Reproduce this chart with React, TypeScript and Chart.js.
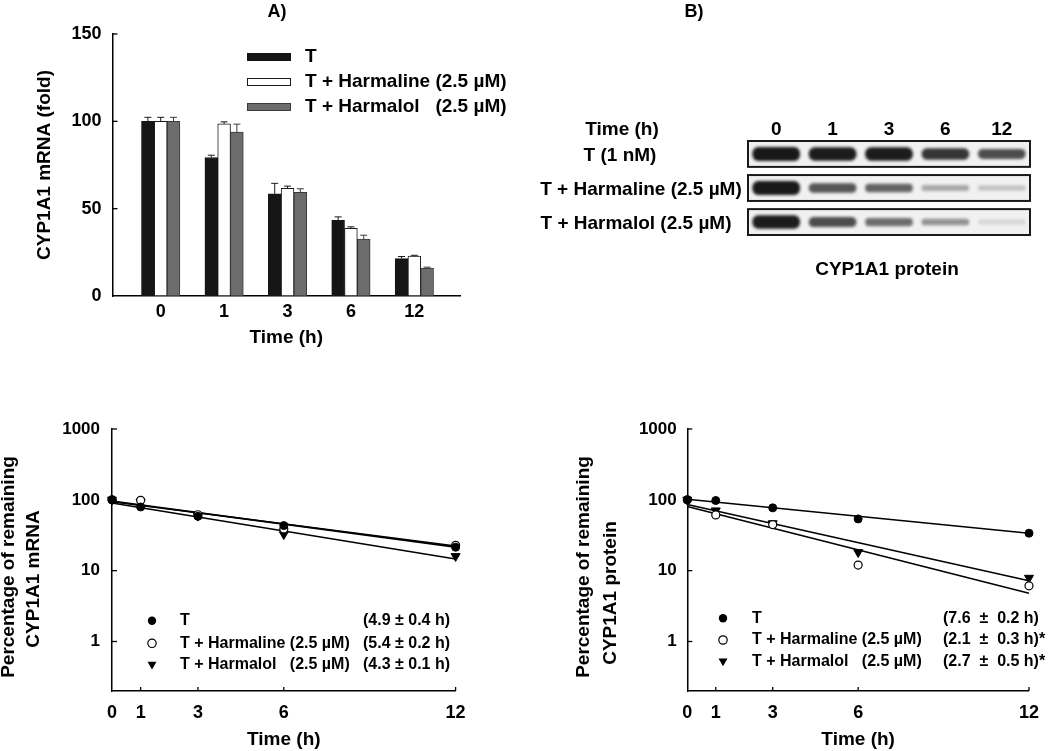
import React, { useEffect, useRef } from "react";
import { Chart, registerables } from "chart.js";

Chart.register(...registerables);

const FONT = "'Liberation Sans', Arial, Helvetica, sans-serif";

// ---------- shared ----------
const timeLabels = ["0", "1", "3", "6", "12"];
const timeHours = [0, 1, 3, 6, 12];
const fitHours = [0, 12];
const seriesNames = ["T", "T + Harmaline", "T + Harmalol"];
const seriesConc = ["", "(2.5 µM)", "(2.5 µM)"];

// ---------- Panel A: CYP1A1 mRNA (fold) ----------
const mrnaT = [100, 79.3, 58.5, 43.3, 21.4];
const mrnaHarmaline = [100, 98.5, 61.6, 38.8, 22.8];
const mrnaHarmalol = [100, 93.8, 59.4, 32.6, 16.0];
const mrnaErrT = [2.3, 1.3, 6.0, 2.0, 1.2];
const mrnaErrHarmaline = [2.3, 1.2, 1.3, 0.8, 0.5];
const mrnaErrHarmalol = [2.3, 4.6, 2.0, 2.2, 0.5];
const foldTicks = [0, 50, 100, 150];

// ---------- Panel B: western blot band intensities ----------
const blotRowLabels = ["T (1 nM)", "T + Harmaline (2.5 µM)", "T + Harmalol (2.5 µM)"];
const bandT = [0.95, 0.93, 0.93, 0.82, 0.72];
const bandHarmaline = [0.95, 0.68, 0.62, 0.32, 0.22];
const bandHarmalol = [0.93, 0.72, 0.58, 0.42, 0.12];

// ---------- Panel C: % remaining mRNA (same values as panel A) ----------
const mrnaFitT = [96, 21.5];
const mrnaFitHarmaline = [94, 22.3];
const mrnaFitHarmalol = [90, 14.6];
const mrnaHalfLives = ["(4.9 ± 0.4 h)", "(5.4 ± 0.2 h)", "(4.3 ± 0.1 h)"];

// ---------- Panel D: % remaining protein ----------
const protT = [100, 97.8, 77, 53.8, 33.8];
const protHarmaline = [100, 61.3, 44.8, 12.0, 6.1];
const protHarmalol = [100, 70.6, 46.5, 18.2, 7.9];
const protFitT = [102, 33.8];
const protFitHarmaline = [80.5, 4.8];
const protFitHarmalol = [86, 7.2];
const protHalfLives = ["(7.6  ±  0.2 h)", "(2.1  ±  0.3 h)*", "(2.7  ±  0.5 h)*"];

const logTicks = [1, 10, 100, 1000];

const bold = (s: number) => `bold ${s}px ${FONT}`;

function text(ctx: CanvasRenderingContext2D, t: string, x: number, y: number, size: number, align: CanvasTextAlign = "center", rot = 0) {
  ctx.save();
  ctx.font = bold(size);
  ctx.fillStyle = "#000";
  ctx.textAlign = align;
  ctx.textBaseline = "middle";
  ctx.translate(x, y);
  if (rot) ctx.rotate(rot);
  ctx.fillText(t, 0, 0);
  ctx.restore();
}

function inwardTicks(xVals: number[], yVals: number[], xLen: number, yLen: number) {
  return {
    id: "inwardTicks",
    afterDraw(chart: any) {
      const { ctx, chartArea, scales } = chart;
      ctx.save();
      ctx.strokeStyle = "#000";
      ctx.lineWidth = 1.3;
      xVals.forEach((v) => {
        const px = scales.x.getPixelForValue(v);
        ctx.beginPath();
        ctx.moveTo(px, chartArea.bottom);
        ctx.lineTo(px, chartArea.bottom - xLen);
        ctx.stroke();
      });
      yVals.forEach((v) => {
        const py = scales.y.getPixelForValue(v);
        ctx.beginPath();
        ctx.moveTo(chartArea.left, py);
        ctx.lineTo(chartArea.left + yLen, py);
        ctx.stroke();
      });
      ctx.restore();
    },
  };
}

const axisBorder = { display: true, color: "#000", width: 1.5 };
const noGrid = { display: false, drawTicks: false };

// ================= Panel A =================
function makeBarConfig(): any {
  const vals = [mrnaT, mrnaHarmaline, mrnaHarmalol];
  const errs = [mrnaErrT, mrnaErrHarmaline, mrnaErrHarmalol];
  const fills = ["#151515", "#ffffff", "#6c6c6c"];
  const borders = ["#151515", "#1a1a1a", "#3a3a3a"];
  const errColors = ["#1a1a1a", "#1a1a1a", "#3a3a3a"];
  const panelPlugin = {
    id: "panelA",
    afterDatasetsDraw(chart: any) {
      const { ctx } = chart;
      const y = chart.scales.y;
      ctx.save();
      ctx.lineWidth = 1;
      vals.forEach((series, i) => {
        const meta = chart.getDatasetMeta(i);
        meta.data.forEach((bar: any, j: number) => {
          const top = y.getPixelForValue(series[j]);
          const tip = y.getPixelForValue(series[j] + errs[i][j]);
          ctx.strokeStyle = errColors[i];
          ctx.beginPath();
          ctx.moveTo(bar.x, top);
          ctx.lineTo(bar.x, tip);
          ctx.moveTo(bar.x - 3.5, tip);
          ctx.lineTo(bar.x + 3.5, tip);
          ctx.stroke();
        });
      });
      ctx.restore();
    },
    afterDraw(chart: any) {
      const { ctx } = chart;
      text(ctx, "A)", 277, 12, 18);
      const rows = [57, 82, 107];
      ctx.save();
      ctx.font = bold(19);
      const concX = 305 + ctx.measureText("T + Harmaline ").width;
      ctx.restore();
      rows.forEach((ry, i) => {
        ctx.save();
        ctx.fillStyle = fills[i];
        ctx.strokeStyle = borders[i];
        ctx.lineWidth = 1;
        ctx.fillRect(247, ry - 4, 44, 8);
        ctx.strokeRect(247.5, ry - 3.5, 43, 7);
        ctx.restore();
        text(ctx, seriesNames[i], 305, ry, 19, "left");
        if (seriesConc[i]) text(ctx, seriesConc[i], concX, ry, 19, "left");
      });
    },
  };
  return {
    type: "bar",
    data: {
      datasets: vals.map((series, i) => ({
        label: seriesNames[i],
        data: series.map((v, j) => ({ x: j, y: v })),
        backgroundColor: fills[i],
        borderColor: borders[i],
        borderWidth: 1,
        borderSkipped: false,
        barThickness: 12.8,
      })),
    },
    options: {
      responsive: false,
      animation: false,
      events: [],
      layout: { padding: { left: 0, top: 34, right: 70, bottom: 0 } },
      plugins: { legend: { display: false }, tooltip: { enabled: false } },
      scales: {
        x: {
          type: "linear",
          min: -0.76,
          max: 4.72,
          offset: false,
          grid: noGrid,
          border: axisBorder,
          afterBuildTicks: (s: any) => {
            s.ticks = timeLabels.map((_, i) => ({ value: i }));
          },
          afterFit: (s: any) => {
            s.height = 64;
          },
          ticks: {
            autoSkip: false,
            maxRotation: 0,
            padding: 5,
            color: "#000",
            font: { family: FONT, size: 18, weight: "bold" },
            callback: (v: any) => timeLabels[Math.round(Number(v))],
          },
          title: {
            display: true,
            text: "Time (h)",
            color: "#000",
            font: { family: FONT, size: 19, weight: "bold" },
            padding: { top: 0, bottom: 10.6 },
          },
        },
        y: {
          type: "linear",
          min: 0,
          max: 150,
          grid: noGrid,
          border: axisBorder,
          afterBuildTicks: (s: any) => {
            s.ticks = foldTicks.map((v) => ({ value: v }));
          },
          afterFit: (s: any) => {
            s.width = 112.5;
          },
          ticks: {
            padding: 11,
            color: "#000",
            font: { family: FONT, size: 18, weight: "bold" },
            callback: (v: any) => String(v),
          },
          title: {
            display: true,
            text: "CYP1A1 mRNA (fold)",
            color: "#000",
            font: { family: FONT, size: 19, weight: "bold" },
            padding: { top: 33.6, bottom: 0 },
          },
        },
      },
    },
    plugins: [panelPlugin, inwardTicks([], [50, 100, 150], 0, 5)],
  };
}

// ================= Panel B (blot) =================
const BOX_HALF = 0.38;
const bandHalf = (i: number) => 0.06 + 0.15 * i * i;
const bandColor = (i: number) => {
  const g = Math.round(242 - 230 * i);
  return `rgb(${g},${g},${g})`;
};

function makeBlotConfig(): any {
  const rows = [bandT, bandHarmaline, bandHarmalol];
  const labelCenters = [80, 101, 96];
  const blotPlugin = {
    id: "blot",
    beforeDatasetsDraw(chart: any) {
      const { ctx, scales } = chart;
      const { x, y } = scales;
      ctx.save();
      ctx.fillStyle = "#f1f1f1";
      rows.forEach((_, r) => {
        const x0 = x.getPixelForValue(-0.5);
        const x1 = x.getPixelForValue(4.5);
        const y0 = y.getPixelForValue(r - BOX_HALF);
        const y1 = y.getPixelForValue(r + BOX_HALF);
        ctx.fillRect(x0, Math.min(y0, y1), x1 - x0, Math.abs(y1 - y0));
      });
      ctx.restore();
      ctx.save();
      ctx.filter = "blur(1.6px)";
    },
    afterDatasetsDraw(chart: any) {
      const { ctx, scales } = chart;
      const { x, y } = scales;
      ctx.restore();
      ctx.save();
      ctx.strokeStyle = "#1a1a1a";
      ctx.lineWidth = 2;
      rows.forEach((_, r) => {
        const x0 = x.getPixelForValue(-0.5);
        const x1 = x.getPixelForValue(4.5);
        const y0 = y.getPixelForValue(r - BOX_HALF);
        const y1 = y.getPixelForValue(r + BOX_HALF);
        ctx.strokeRect(x0, Math.min(y0, y1), x1 - x0, Math.abs(y1 - y0));
      });
      ctx.restore();
      text(ctx, "B)", 154, 12, 18);
      text(ctx, "Time (h)", 82, 130, 19);
      timeLabels.forEach((l, i) => text(ctx, l, x.getPixelForValue(i), 130, 19));
      blotRowLabels.forEach((l, r) => text(ctx, l, labelCenters[r], y.getPixelForValue(r) + 2, 19));
      text(ctx, "CYP1A1 protein", 347, 270, 19);
    },
  };
  return {
    type: "bar",
    data: {
      datasets: rows.map((row, r) => ({
        data: row.map((inten, lane) => ({ x: lane, y: [r - bandHalf(inten), r + bandHalf(inten)] })),
        backgroundColor: row.map((inten) => bandColor(inten)),
        borderWidth: 0,
        borderRadius: 6,
        borderSkipped: false,
        barThickness: 47,
        grouped: false,
      })),
    },
    options: {
      responsive: false,
      animation: false,
      events: [],
      layout: { padding: { left: 208, right: 20, top: 141, bottom: 65 } },
      plugins: { legend: { display: false }, tooltip: { enabled: false } },
      scales: {
        x: { type: "linear", min: -0.5, max: 4.5, display: false, offset: false },
        y: { type: "linear", min: -BOX_HALF, max: 2 + BOX_HALF, reverse: true, display: false },
      },
    },
    plugins: [blotPlugin],
  };
}

// ================= Panels C & D =================
interface DecayParams {
  values: number[][];
  fits: number[][];
  halfLives: string[];
  yAxisWidth: number;
  padRight: number;
  yTickPad: number;
  titleLines: string[];
  titlePos: number[][];
  markerX: number;
  textX: number;
  halfX: number;
  rows: number[];
}

const markerDefs = [
  { style: "circle", radius: 4, fill: "#000", border: "#000", bw: 1, rot: 0 },
  { style: "circle", radius: 4, fill: "#fff", border: "#000", bw: 1.2, rot: 0 },
  { style: "triangle", radius: 5.2, fill: "#000", border: "#000", bw: 1, rot: 180 },
];

function drawMarker(ctx: CanvasRenderingContext2D, kind: number, x: number, y: number) {
  ctx.save();
  ctx.fillStyle = "#000";
  ctx.strokeStyle = "#000";
  ctx.lineWidth = 1.2;
  ctx.beginPath();
  if (kind === 2) {
    ctx.moveTo(x - 4.5, y - 3.2);
    ctx.lineTo(x + 4.5, y - 3.2);
    ctx.lineTo(x, y + 4.6);
    ctx.closePath();
    ctx.fill();
  } else {
    ctx.arc(x, y, 4.2, 0, Math.PI * 2);
    if (kind === 0) ctx.fill();
    else {
      ctx.fillStyle = "#fff";
      ctx.fill();
      ctx.stroke();
    }
  }
  ctx.restore();
}

function makeDecayConfig(p: DecayParams): any {
  const decayPlugin = {
    id: "decay",
    afterDraw(chart: any) {
      const { ctx } = chart;
      p.titleLines.forEach((l, i) => text(ctx, l, p.titlePos[i][0], p.titlePos[i][1], 19, "center", -Math.PI / 2));
      ctx.save();
      ctx.font = bold(16);
      const concX = p.textX + ctx.measureText("T + Harmaline ").width;
      ctx.restore();
      p.rows.forEach((ry, i) => {
        drawMarker(ctx, i, p.markerX, ry);
        text(ctx, seriesNames[i], p.textX, ry, 16, "left");
        if (seriesConc[i]) text(ctx, seriesConc[i], concX, ry, 16, "left");
        text(ctx, p.halfLives[i], p.halfX, ry, 16, "left");
      });
    },
  };
  const pointSets = p.values.map((series, i) => ({
    label: seriesNames[i],
    data: series.map((v, j) => ({ x: timeHours[j], y: v })),
    showLine: false,
    pointStyle: markerDefs[i].style,
    pointRadius: markerDefs[i].radius,
    pointBackgroundColor: markerDefs[i].fill,
    pointBorderColor: markerDefs[i].border,
    pointBorderWidth: markerDefs[i].bw,
    pointRotation: markerDefs[i].rot,
    clip: false,
  }));
  const lineSets = p.fits.map((fit, i) => ({
    label: seriesNames[i] + " fit",
    data: fit.map((v, k) => ({ x: fitHours[k], y: v })),
    showLine: true,
    borderColor: "#000",
    borderWidth: 1.6,
    pointRadius: 0,
    fill: false,
    clip: false,
  }));
  return {
    type: "scatter",
    data: { datasets: [...pointSets, ...lineSets] },
    options: {
      responsive: false,
      animation: false,
      events: [],
      layout: { padding: { left: 0, top: 49, right: p.padRight, bottom: 0 } },
      plugins: { legend: { display: false }, tooltip: { enabled: false } },
      scales: {
        x: {
          type: "linear",
          min: 0,
          max: 12,
          grid: noGrid,
          border: axisBorder,
          afterBuildTicks: (s: any) => {
            s.ticks = timeHours.map((v) => ({ value: v }));
          },
          afterFit: (s: any) => {
            s.height = 60;
          },
          ticks: {
            autoSkip: false,
            maxRotation: 0,
            padding: 11,
            color: "#000",
            font: { family: FONT, size: 18, weight: "bold" },
            callback: (v: any) => String(v),
          },
          title: {
            display: true,
            text: "Time (h)",
            color: "#000",
            font: { family: FONT, size: 19, weight: "bold" },
            padding: { top: 0, bottom: 0 },
          },
        },
        y: {
          type: "logarithmic",
          min: 0.2,
          max: 1000,
          grid: noGrid,
          border: axisBorder,
          afterBuildTicks: (s: any) => {
            s.ticks = logTicks.map((v) => ({ value: v }));
          },
          afterFit: (s: any) => {
            s.width = p.yAxisWidth;
          },
          ticks: {
            padding: p.yTickPad,
            color: "#000",
            font: { family: FONT, size: 17, weight: "bold" },
            callback: (v: any) => String(v),
          },
        },
      },
    },
    plugins: [decayPlugin, inwardTicks([1, 3, 6, 12], logTicks, 4, 5)],
  };
}

const makeMrnaDecay = () =>
  makeDecayConfig({
    values: [mrnaT, mrnaHarmaline, mrnaHarmalol],
    fits: [mrnaFitT, mrnaFitHarmaline, mrnaFitHarmalol],
    halfLives: mrnaHalfLives,
    yAxisWidth: 112,
    padRight: 74.4,
    yTickPad: 12,
    titleLines: ["Percentage of remaining", "CYP1A1 mRNA"],
    titlePos: [
      [9, 187],
      [34, 199],
    ],
    markerX: 152,
    textX: 180,
    halfX: 363,
    rows: [240.7, 263.3, 285],
  });

const makeProtDecay = () =>
  makeDecayConfig({
    values: [protT, protHarmaline, protHarmalol],
    fits: [protFitT, protFitHarmaline, protFitHarmalol],
    halfLives: protHalfLives,
    yAxisWidth: 157.3,
    padRight: 14,
    yTickPad: 10.6,
    titleLines: ["Percentage of remaining", "CYP1A1 protein"],
    titlePos: [
      [54, 187],
      [81, 213],
    ],
    markerX: 193,
    textX: 222,
    halfX: 413,
    rows: [238.3, 260, 281.7],
  });

function ChartCanvas({ left, top, width, height, make }: { left: number; top: number; width: number; height: number; make: () => any }) {
  const ref = useRef<HTMLCanvasElement | null>(null);
  useEffect(() => {
    if (!ref.current) return;
    const chart = new Chart(ref.current, make());
    return () => chart.destroy();
  }, [make]);
  return (
    <canvas
      ref={ref}
      width={width}
      height={height}
      style={{ position: "absolute", left, top, width, height, display: "block" }}
    />
  );
}

export default function App() {
  return (
    <div style={{ position: "absolute", left: 0, top: 0, width: 1050, height: 751, background: "#fff", overflow: "hidden" }}>
      <ChartCanvas left={0} top={0} width={530} height={360} make={makeBarConfig} />
      <ChartCanvas left={540} top={0} width={510} height={300} make={makeBlotConfig} />
      <ChartCanvas left={0} top={380} width={530} height={371} make={makeMrnaDecay} />
      <ChartCanvas left={530} top={380} width={520} height={371} make={makeProtDecay} />
    </div>
  );
}
